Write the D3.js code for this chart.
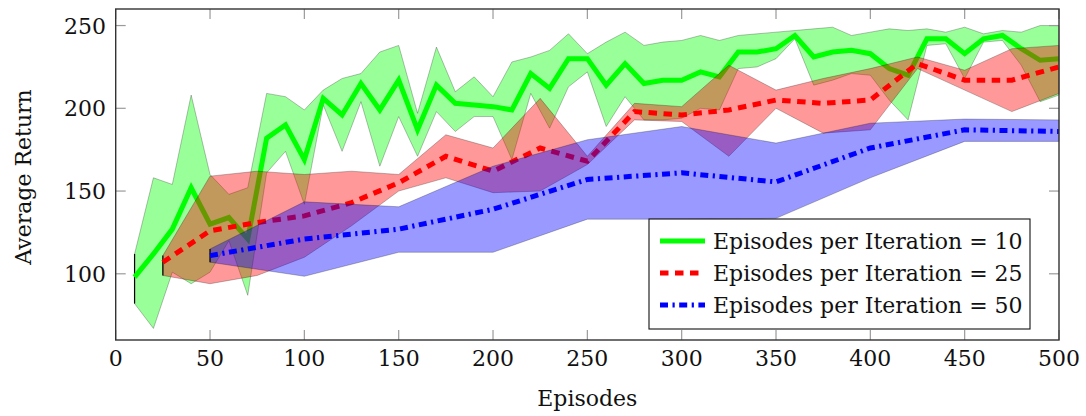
<!DOCTYPE html>
<html>
<head>
<meta charset="utf-8">
<script src="https://cdn.jsdelivr.net/npm/d3@7"></script>
<style>
  html, body { margin: 0; padding: 0; background: #fff; }
  svg { display: block; }
  text { font-family: "DejaVu Serif", serif; fill: #111; }
</style>
</head>
<body>
<svg id="chart" width="1086" height="416"></svg>
<script>
// Average return vs. number of episodes, with one shaded band per setting.

// Episodes per iteration = 10
const episodes10 = [10,20,30,40,50,60,70,80,90,100,110,120,130,140,150,160,170,180,190,200,
  210,220,230,240,250,260,270,280,290,300,310,320,330,340,350,360,370,380,390,400,
  410,420,430,440,450,460,470,480,490,500];
const mean10 = [98,112,127,152,130,134,121,182,190,169,206,196,215,199,217,187,214,203,202,201,
  199,221,212,230,230,214,227,215,217,217,222,219,234,234,236,244,231,234,235,233,
  224,220,242,242,233,242,244,236,229,230];
const upper10 = [112,158,154,208,160,148,152,209,207,199,211,218,221,234,238,197,237,210,219,207,
  228,231,235,245,233,240,246,238,240,241,244,241,244,245,246,247,248,249,244,246,
  248,247,248,246,249,245,247,246,250,250];
const lower10 = [82,67,101,94,101,120,87,161,174,142,202,174,204,165,195,171,198,186,195,195,
  169,209,188,213,222,189,207,193,193,194,200,199,224,225,230,242,214,217,221,220,
  205,193,238,239,218,240,241,226,204,208];

// Episodes per iteration = 25
const episodes25 = [25,50,75,100,125,150,175,200,225,250,275,300,325,350,375,400,425,450,475,500];
const mean25 = [107,126,131,135,143,155,171,162,176,168,198,196,199,205,203,205,227,217,217,225];
const upper25 = [111,159,162,160,162,160,184,176,206,171,203,201,226,211,218,224,231,223,236,238];
const lower25 = [99,94,99,110,129,150,158,149,150,166,193,192,171,200,185,187,224,211,198,209];

// Episodes per iteration = 50
const episodes50 = [50,100,150,200,250,300,350,400,450,500];
const mean50 = [111,121,127,139,157,161,155.5,176,187,186];
const upper50 = [115,143.5,140.5,165,181,189,179,191,193.5,193];
const lower50 = [107,98.5,113,113,133,133,133.5,158,180,180];

const xTicks = [0,50,100,150,200,250,300,350,400,450,500];
const yTicks = [100,150,200,250];

const seriesLabels = ["Episodes per Iteration = 10", "Episodes per Iteration = 25", "Episodes per Iteration = 50"];

const svg = d3.select("#chart");
const plotLeft = 115.7, plotRight = 1059, plotTop = 9, plotBottom = 340;

const x = d3.scaleLinear().domain([0, 500]).range([plotLeft, plotRight]);
const y = d3.scaleLinear().domain([60, 260]).range([plotBottom, plotTop]);

const series = [
  { ep: episodes10, mean: mean10, hi: upper10, lo: lower10, color: "#00ff00", dash: null },
  { ep: episodes25, mean: mean25, hi: upper25, lo: lower25, color: "#ff0000", dash: "8.5,6.5" },
  { ep: episodes50, mean: mean50, hi: upper50, lo: lower50, color: "#0000ff", dash: "8,4.5,2.2,4.5" }
];

const plot = svg.append("g");

series.forEach(s => {
  const rows = s.ep.map((e, i) => ({ e, m: s.mean[i], hi: s.hi[i], lo: s.lo[i] }));
  const band = d3.area()
    .x(d => x(d.e))
    .y0(d => y(d.lo))
    .y1(d => y(d.hi));
  plot.append("path")
    .datum(rows)
    .attr("d", band)
    .attr("fill", s.color)
    .attr("fill-opacity", 0.4)
    .attr("stroke", "#000")
    .attr("stroke-opacity", 0.25)
    .attr("stroke-width", 1);
  // closing edge at the start of the band
  plot.append("line")
    .attr("x1", x(rows[0].e)).attr("x2", x(rows[0].e))
    .attr("y1", y(rows[0].lo)).attr("y2", y(rows[0].hi))
    .attr("stroke", "#000").attr("stroke-width", 1.2);
  const line = d3.line().x(d => x(d.e)).y(d => y(d.m));
  plot.append("path")
    .datum(rows)
    .attr("d", line)
    .attr("fill", "none")
    .attr("stroke", s.color)
    .attr("stroke-width", 5)
    .attr("stroke-linejoin", "miter")
    .attr("stroke-dasharray", s.dash);
});

// axis ticks on all four sides, pointing inward
const tickLen = 10;
const tickG = svg.append("g").attr("stroke", "#9a9a9a").attr("stroke-width", 1.2);
xTicks.forEach(t => {
  tickG.append("line").attr("x1", x(t)).attr("x2", x(t)).attr("y1", plotBottom).attr("y2", plotBottom - tickLen);
  tickG.append("line").attr("x1", x(t)).attr("x2", x(t)).attr("y1", plotTop).attr("y2", plotTop + tickLen);
});
yTicks.forEach(t => {
  tickG.append("line").attr("x1", plotLeft).attr("x2", plotLeft + tickLen).attr("y1", y(t)).attr("y2", y(t));
  tickG.append("line").attr("x1", plotRight).attr("x2", plotRight - tickLen).attr("y1", y(t)).attr("y2", y(t));
});

// frame
svg.append("rect")
  .attr("x", plotLeft).attr("y", plotTop)
  .attr("width", plotRight - plotLeft).attr("height", plotBottom - plotTop)
  .attr("fill", "none").attr("stroke", "#333").attr("stroke-width", 1.4);

// tick labels
const fs = 22;
svg.append("g").selectAll("text").data(xTicks).join("text")
  .attr("x", d => x(d)).attr("y", 366)
  .attr("text-anchor", "middle").attr("font-size", fs)
  .text(d => d);
svg.append("g").selectAll("text").data(yTicks).join("text")
  .attr("x", 106).attr("y", d => y(d) + 8)
  .attr("text-anchor", "end").attr("font-size", fs)
  .text(d => d);

// axis titles
svg.append("text")
  .attr("x", (plotLeft + plotRight) / 2).attr("y", 406)
  .attr("text-anchor", "middle").attr("font-size", fs)
  .text("Episodes");
svg.append("text")
  .attr("transform", "translate(31,177) rotate(-90)")
  .attr("text-anchor", "middle").attr("font-size", fs)
  .text("Average Return");

// legend
const lg = svg.append("g");
lg.append("rect")
  .attr("x", 649).attr("y", 219).attr("width", 381).attr("height", 110)
  .attr("fill", "#fff").attr("stroke", "#111").attr("stroke-width", 1.1);
series.forEach((s, i) => {
  const cy = 241 + i * 32;
  lg.append("line")
    .attr("x1", 660).attr("x2", 705).attr("y1", cy).attr("y2", cy)
    .attr("stroke", s.color).attr("stroke-width", 5)
    .attr("stroke-dasharray", s.dash);
  lg.append("text")
    .attr("x", 713).attr("y", cy + 8)
    .attr("font-size", fs)
    .text(seriesLabels[i]);
});
</script>
</body>
</html>
